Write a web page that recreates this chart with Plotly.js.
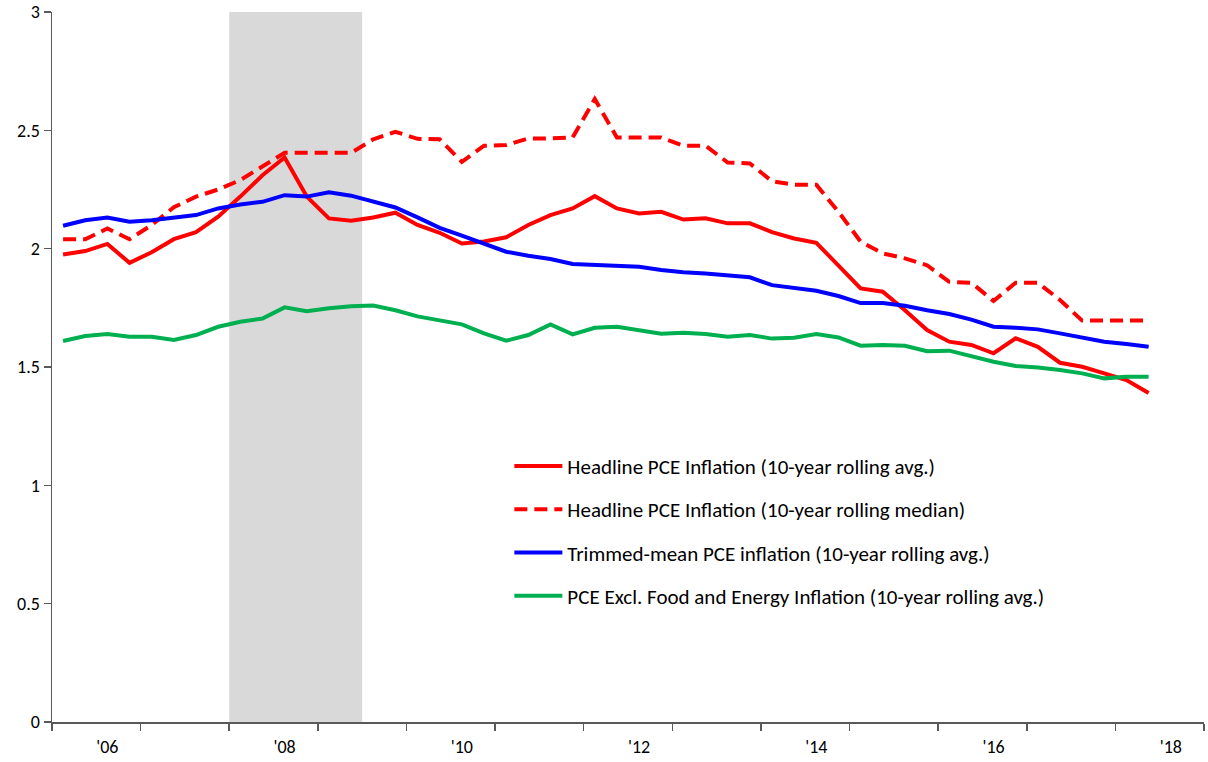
<!DOCTYPE html>
<html>
<head>
<meta charset="utf-8">
<script src="https://cdn.plot.ly/plotly-3.0.1.min.js"></script>
<style>html,body{margin:0;padding:0;background:#fff}#chart{width:1208px;height:762px}</style>
</head>
<body>
<div id="chart"></div>
<script>
// Quarterly observations, index 0..49
const quarterIndex = Array.from({length: 50}, (_, i) => i);

const headlineAvg = [1.975,1.99,2.02,1.94,1.985,2.04,2.07,2.135,2.22,2.31,
  2.385,2.22,2.128,2.118,2.132,2.152,2.10,2.067,2.022,2.03,
  2.048,2.10,2.142,2.17,2.222,2.17,2.149,2.156,2.123,2.128,
  2.107,2.107,2.07,2.043,2.025,1.93,1.832,1.818,1.74,1.656,
  1.607,1.593,1.558,1.621,1.585,1.518,1.501,1.473,1.445,1.39];

const headlineMedian = [2.04,2.04,2.085,2.04,2.10,2.175,2.22,2.25,2.29,2.346,
  2.405,2.405,2.405,2.405,2.462,2.494,2.464,2.462,2.367,2.435,
  2.438,2.466,2.466,2.47,2.632,2.47,2.47,2.47,2.435,2.435,
  2.364,2.36,2.285,2.27,2.27,2.156,2.03,1.98,1.959,1.93,
  1.86,1.856,1.779,1.856,1.856,1.783,1.696,1.696,1.696,1.696];

const trimmedMean = [2.097,2.12,2.132,2.114,2.12,2.132,2.142,2.17,2.187,2.198,
  2.226,2.22,2.238,2.224,2.198,2.174,2.132,2.088,2.055,2.02,
  1.987,1.97,1.956,1.935,1.931,1.928,1.924,1.91,1.90,1.895,
  1.888,1.879,1.846,1.832,1.822,1.80,1.77,1.77,1.759,1.74,
  1.724,1.70,1.67,1.666,1.659,1.642,1.625,1.607,1.597,1.586];

const coreExFoodEnergy = [1.61,1.631,1.639,1.628,1.628,1.614,1.635,1.67,1.691,1.705,
  1.752,1.736,1.748,1.757,1.76,1.74,1.714,1.698,1.68,1.642,
  1.611,1.635,1.68,1.638,1.666,1.67,1.656,1.641,1.645,1.639,
  1.628,1.635,1.62,1.624,1.639,1.625,1.59,1.593,1.59,1.567,
  1.569,1.545,1.522,1.504,1.498,1.487,1.473,1.452,1.459,1.459];

const seriesNames = [
  "Headline PCE Inflation (10-year rolling avg.)",
  "Headline PCE Inflation (10-year rolling median)",
  "Trimmed-mean PCE inflation (10-year rolling avg.)",
  "PCE Excl. Food and Energy Inflation (10-year rolling avg.)"
];

const yearLabels = ["'06","'08","'10","'12","'14","'16","'18"];
const yearLabelPos = [2,10,18,26,34,42,50];
const yearTickPos = [-0.5,3.5,7.5,11.5,15.5,19.5,23.5,27.5,31.5,35.5,39.5,43.5,47.5,51.5];
const yTickVals = [0,0.5,1,1.5,2,2.5,3];
const yTickText = ['0','0.5','1','1.5','2','2.5','3'];

const recessionStart = 7.5, recessionEnd = 13.5;

const FONT = "Carlito, Calibri, Lato, 'Liberation Sans', sans-serif";

const mk = (y, name, color, dash, g) => ({
  x: quarterIndex, y: y, name: name, type: 'scatter', mode: 'lines',
  legendgroup: g,
  line: {color: color, width: 4, dash: dash}
});

const traces = [
  mk(headlineAvg, seriesNames[0], '#ff0000', 'solid', 'a'),
  mk(headlineMedian, seriesNames[1], '#ff0000', '13px,7px', 'b'),
  mk(trimmedMean, seriesNames[2], '#0000ff', 'solid', 'c'),
  mk(coreExFoodEnergy, seriesNames[3], '#00b050', 'solid', 'd')
];

const layout = {
  width: 1208, height: 762,
  margin: {l: 52, r: 4, t: 12, b: 40},
  paper_bgcolor: '#ffffff', plot_bgcolor: '#ffffff',
  font: {family: FONT, size: 18, color: '#000000'},
  showlegend: true,
  legend: {
    x: 0.397, y: 0.389, xanchor: 'left', yanchor: 'top',
    font: {family: FONT, size: 21, color: '#000000'},
    tracegroupgap: 13, bgcolor: 'rgba(0,0,0,0)', itemwidth: 48
  },
  xaxis: {
    range: [-0.5, 51.5], showgrid: false, zeroline: false,
    showline: true, linecolor: '#595959', linewidth: 1.5,
    tickmode: 'array', tickvals: yearLabelPos, ticktext: yearLabels,
    ticks: '', ticklabelstandoff: 8, tickfont: {family: FONT, size: 18, color: '#000'},
    minor: {tickmode: 'array', tickvals: yearTickPos, ticks: 'outside', ticklen: 7, tickcolor: '#595959', tickwidth: 1.5, showgrid: false},
    fixedrange: true
  },
  yaxis: {
    range: [0, 3], showgrid: false, zeroline: false,
    showline: true, linecolor: '#595959', linewidth: 1.5,
    tickmode: 'array', tickvals: yTickVals, ticktext: yTickText,
    ticks: 'outside', ticklen: 7, tickcolor: '#595959', tickwidth: 1.5,
    tickfont: {family: FONT, size: 18, color: '#000'},
    fixedrange: true
  },
  shapes: [{
    type: 'rect', xref: 'x', yref: 'y', layer: 'below',
    x0: recessionStart, x1: recessionEnd, y0: 0, y1: 3,
    fillcolor: '#d9d9d9', line: {width: 0}
  }]
};

Plotly.newPlot('chart', traces, layout, {displayModeBar: false, staticPlot: true});
</script>
</body>
</html>
